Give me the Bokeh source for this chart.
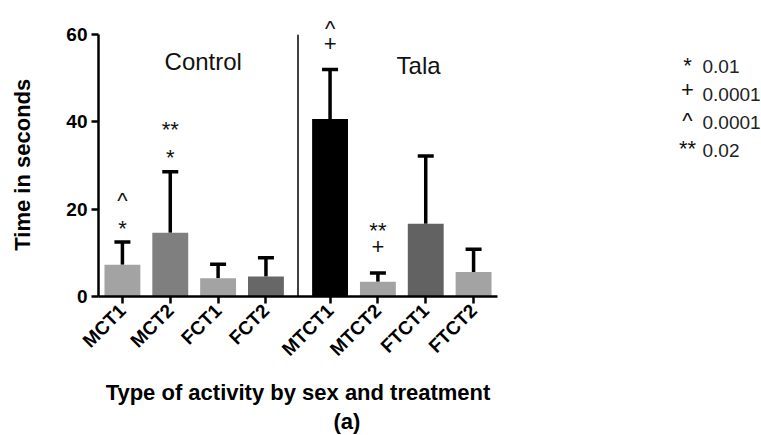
import math
from bokeh.plotting import figure
from bokeh.models import ColumnDataSource, Range1d, FixedTicker, Whisker, TeeHead, Title
from bokeh.layouts import row
from bokeh.embed import file_html
from bokeh.resources import INLINE
from bokeh.core.properties import value

# ---------------- data ----------------
groups = ["Control", "Control", "Control", "Control", "Tala", "Tala", "Tala", "Tala"]
categories = ["MCT1", "MCT2", "FCT1", "FCT2", "MTCT1", "MTCT2", "FTCT1", "FTCT2"]
means = [7.3, 14.6, 4.2, 4.6, 40.7, 3.4, 16.7, 5.6]
errors = [5.2, 14.0, 3.2, 4.3, 11.3, 2.0, 15.5, 5.2]
y_ticks = [0, 20, 40, 60]
sig_bar = ["MCT1", "MCT1", "MCT2", "MCT2", "MTCT1", "MTCT1", "MTCT2", "MTCT2"]
sig_symbol = ["*", "^", "*", "**", "+", "^", "+", "**"]
legend_symbols = ["*", "+", "^", "**"]
legend_pvalues = ["0.01", "0.0001", "0.0001", "0.02"]

# ---------------- style ----------------
bar_colors = ["#a3a3a3", "#7f7f7f", "#a3a3a3", "#676767", "#000000", "#a3a3a3", "#626262", "#a3a3a3"]
FONT = "Liberation Sans"
GROUP_GAP = 0.34
SYM_NUDGE = {"*": 7, "**": 3, "^": 4, "+": -5}
LEGEND_NUDGE = {"*": 3, "**": 2, "^": 2, "+": -1}
NBSP = "\u00a0"

xs = [i + 0.5 + (GROUP_GAP if g == "Tala" else 0.0) for i, g in enumerate(groups)]
uppers = [m + e for m, e in zip(means, errors)]
x_end = len(categories) + GROUP_GAP
divider_x = (xs[3] + xs[4]) / 2

src = ColumnDataSource(dict(x=xs, value=means, upper=uppers, color=bar_colors, name=categories))

FRAME_H = 291
p = figure(width=508, height=435, output_backend="svg", toolbar_location=None,
           x_range=Range1d(0, x_end), y_range=Range1d(0, 66.0),
           min_border_left=98, min_border_right=11, min_border_top=8, min_border_bottom=136)
p.outline_line_color = None
p.xgrid.visible = False
p.ygrid.visible = False
p.background_fill_color = "white"
p.border_fill_color = "white"

p.vbar(x="x", top="value", width=0.75, fill_color="color", line_color=None, source=src)

whisk = Whisker(base="x", lower="value", upper="upper", source=src,
                line_color="black", line_width=3.5,
                upper_head=TeeHead(size=16, line_width=3.5, line_color="black"),
                lower_head=None)
p.add_layout(whisk)

# separator between groups
p.segment(x0=[divider_x], y0=[0], x1=[divider_x], y1=[y_ticks[-1]], line_color="black", line_width=1.5)

# group names
p.text(x=[2.19, 6.69], y=[53.8, 53.0], text=["Control", "Tala"], text_font=value(FONT),
       text_font_size="24px", text_align="center", text_baseline="middle", text_color="#111111")

# significance markers above bars
idx = {c: i for i, c in enumerate(categories)}
seen = {}
sx, sy, soff = [], [], []
for b, s in zip(sig_bar, sig_symbol):
    lvl = seen.get(b, 0)
    seen[b] = lvl + 1
    i = idx[b]
    sx.append(xs[i])
    sy.append(uppers[i] + 4.8 + 5.6 * lvl)
    soff.append(SYM_NUDGE[s])
p.text(x=sx, y=sy, text=sig_symbol, y_offset=soff, text_font=value(FONT), text_font_size="22px",
       text_align="center", text_baseline="middle", text_color="#111111")

# axes
p.xaxis.ticker = FixedTicker(ticks=xs)
p.xaxis.major_label_overrides = {x: n for x, n in zip(xs, categories)}
p.xaxis.major_label_orientation = math.pi / 4
p.yaxis.ticker = FixedTicker(ticks=y_ticks)
p.yaxis.bounds = (y_ticks[0], y_ticks[-1])
for ax in (p.xaxis, p.yaxis):
    ax.axis_line_width = 2.5
    ax.axis_line_color = "black"
    ax.major_tick_line_width = 2.5
    ax.major_tick_line_color = "black"
    ax.major_tick_out = 7
    ax.major_tick_in = 0
    ax.minor_tick_line_color = None
    ax.major_label_text_font = FONT
    ax.major_label_text_font_style = "bold"
    ax.major_label_text_color = "black"
    ax.axis_label_text_font = FONT
    ax.axis_label_text_font_style = "bold"
    ax.axis_label_text_font_size = "22px"
    ax.axis_label_text_color = "black"
p.xaxis.major_label_text_font_size = "19px"
p.yaxis.major_label_text_font_size = "19px"
p.xaxis.axis_label = "Type of activity by sex and treatment"
# padding with no-break spaces centres the label on the 0-60 axis line rather than the frame
p.yaxis.axis_label = "Time in seconds" + NBSP * 4
p.xaxis.axis_label_standoff = 10
p.yaxis.axis_label_standoff = 28
p.xaxis.major_label_standoff = 4
p.yaxis.major_label_standoff = 4

p.add_layout(Title(text="(a)", align="left", offset=235, standoff=0, vertical_align="top",
                   text_font=FONT, text_font_style="bold", text_font_size="22px",
                   text_color="black"), "below")

# ---------------- legend panel ----------------
q = figure(width=253, height=435, output_backend="svg", toolbar_location=None,
           x_range=Range1d(0, 253), y_range=Range1d(FRAME_H, 0),
           x_axis_type=None, y_axis_type=None, min_border=0)
q.outline_line_color = None
q.xgrid.visible = False
q.ygrid.visible = False
rows_y = [58.7 + 28.4 * k for k in range(len(legend_symbols))]
q.text(x=[179] * len(legend_symbols), y=[r - 4 for r in rows_y], text=legend_symbols,
       y_offset=[LEGEND_NUDGE[s] for s in legend_symbols], text_font=value(FONT), text_font_size="22px",
       text_align="center", text_baseline="middle", text_color="#111111")
q.text(x=[194] * len(legend_pvalues), y=rows_y, text=legend_pvalues, text_font=value(FONT),
       text_font_size="19px", text_align="left", text_baseline="middle", text_color="#222222")

layout = row(p, q)
open("out.html", "w").write(file_html(layout, INLINE))
